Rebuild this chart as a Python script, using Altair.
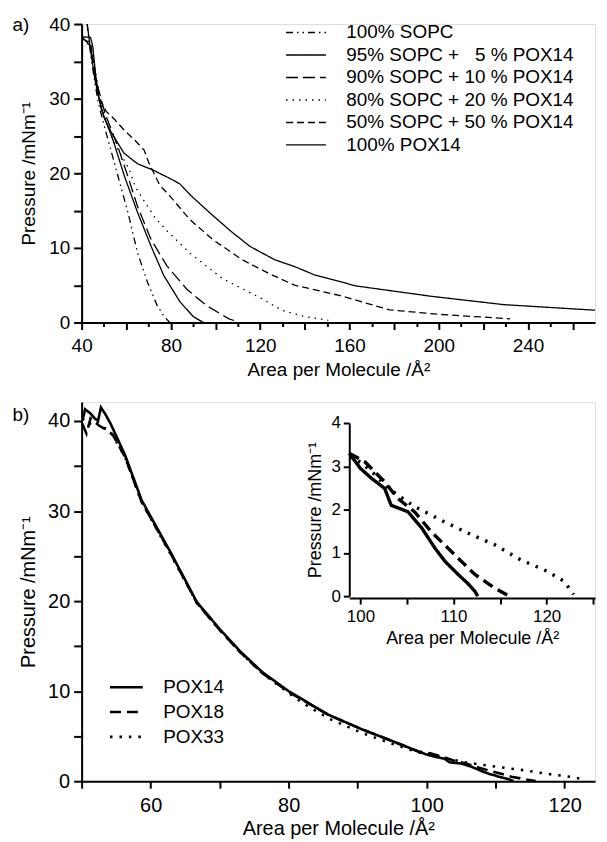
import altair as alt
import pandas as pd

FONT = "Liberation Sans"

# ---------------- panel a data (area per molecule, pressure)
names_a = [
    "100% SOPC",
    "\u00a0\u00a095% SOPC + \u00a0\u00a05 % POX14",
    "\u00a0\u00a090% SOPC + 10 % POX14",
    "\u00a0\u00a080% SOPC + 20 % POX14",
    "\u00a0\u00a050% SOPC + 50 % POX14",
    "100% POX14",
]
dash_a = [[7, 4, 1.5, 4, 1.5, 4], [1, 0], [12, 5], [1.5, 5], [7, 4], [1, 0]]

sopc_A = [42.5, 44, 46, 47.5, 50, 52, 56.3, 60.7, 65, 69.5, 73.8, 77, 79.5]
sopc_P = [40, 36, 32, 29.4, 26.5, 24.3, 19.6, 14.8, 9.4, 5.4, 2.3, 0.8, 0]

m95_A = [42.5, 44, 46, 48.9, 54, 59.2, 65, 71, 76.8, 84, 90, 94.5]
m95_P = [40, 36.5, 32.5, 28.5, 24.5, 19.6, 14.8, 10.3, 6.3, 2.8, 0.8, 0]

m90_A = [40.5, 44, 46, 50.4, 56.3, 60.7, 65, 71, 78.2, 87, 95.8, 102, 106, 110]
m90_P = [38.2, 37, 33, 28.1, 23.5, 19.6, 15.6, 11.2, 7.6, 4.5, 2.3, 1.2, 0.5, 0.1]

m80_A = [40.5, 44, 46, 48, 51, 54, 57, 59.5, 61.4, 64, 68, 73, 78.2, 88.5, 103, 120.7, 130, 140, 150.5]
m80_P = [38, 37, 34, 30.5, 27, 24.5, 22.8, 21.5, 20.5, 18.2, 16.3, 14, 12.3, 9.3, 5.9, 3.2, 1.6, 0.8, 0.3]

m50_A = [40.5, 44, 46, 48, 51, 54.8, 59, 63.6, 68, 70, 72.4, 75, 79.7, 88.5, 98.8, 112, 123.7, 135.4, 155.9, 177.9, 199.8, 232]
m50_P = [38, 37.5, 33.5, 30, 28.3, 27.2, 25.8, 24.5, 23.1, 21.5, 20, 18.4, 16.9, 13.8, 11.1, 8.4, 6.6, 5.0, 3.6, 1.7, 1.1, 0.5]

pox_A = [40.3, 44, 45, 47, 50, 53.4, 59, 64.9, 72.2, 80.2, 83.9, 89, 97.8, 106.6, 115.4, 121, 126.6, 135.4, 144.2, 163, 197, 229, 270]
pox_P = [38.3, 38.2, 37, 31, 27.5, 25.4, 22.7, 21.3, 20.4, 19.2, 18.6, 17, 14.6, 12.3, 10.2, 9.3, 8.4, 7.5, 6.4, 4.9, 3.5, 2.4, 1.65]

# ---------------- panel b data
names_b = ["POX14", "POX18", "POX33"]
dash_b = [[1, 0], [11, 6], [2.5, 7]]

p14_A = [50.2, 50.5, 51.2, 52.0, 52.4, 52.8, 53.4, 54.2, 56.3, 58.7, 62.9, 66.7, 70, 73, 76.2, 80, 85.7, 90.5, 95.2,
         98.8, 100, 101.2, 102.6, 103.3, 105.1, 106.6, 108, 109.1, 110.5, 111.5, 112.3, 112.6]
p14_P = [40.3, 41.3, 40.9, 40.2, 40.1, 41.5, 40.8, 39.7, 36.2, 31.2, 25.4, 19.9, 16.9, 14.4, 12.1, 10.0, 7.4, 5.8, 4.4,
         3.3, 2.95, 2.72, 2.49, 2.1, 1.95, 1.57, 1.11, 0.8, 0.5, 0.3, 0.11, 0]

p18_A = [50.1, 50.7, 51.3, 52.5, 53.4, 54.5, 56.3, 58.7, 62.9, 66.7, 70, 73, 76.2, 80, 85.7, 90.5, 95.2,
         98.8, 100.5, 102.6, 104, 105.8, 107.6, 110.1, 112.3, 114.4, 115.8]
p18_P = [39.7, 38.6, 40.3, 39.5, 39.1, 38.5, 36.0, 31.0, 25.3, 19.8, 16.8, 14.3, 12.0, 9.9, 7.4, 5.8, 4.4,
         3.3, 3.1, 2.64, 2.26, 1.95, 1.49, 0.96, 0.5, 0.19, 0.02]

p33_A = [50.1, 51, 52, 53, 54.2, 56.3, 58.7, 62.9, 66.7, 70, 73, 76.2, 80, 82, 85.7, 90.5, 95.2,
         98.8, 100, 101.6, 103, 105.8, 109, 111.9, 114.4, 117.2, 120.1, 121.9, 122.9]
p33_P = [40.3, 39.6, 40.1, 39.4, 38.8, 36.0, 31.0, 25.2, 19.8, 16.8, 14.3, 12.0, 9.8, 8.7, 7.0, 5.4, 4.1,
         3.2, 3.1, 2.8, 2.49, 2.07, 1.72, 1.42, 1.19, 0.84, 0.57, 0.34, 0.04]


def frame(names, pairs):
    rows = []
    for n, (xs, ys) in zip(names, pairs):
        for i, (x, y) in enumerate(zip(xs, ys)):
            rows.append({"A": x, "P": y, "s": n, "i": i})
    return pd.DataFrame(rows)


dfa = frame(names_a, [(sopc_A, sopc_P), (m95_A, m95_P), (m90_A, m90_P), (m80_A, m80_P), (m50_A, m50_P), (pox_A, pox_P)])
dfb = frame(names_b, [(p14_A, p14_P), (p18_A, p18_P), (p33_A, p33_P)])
dfi = dfb[dfb["A"] >= 98.8]


def axis(title, values, label_expr, tick=7, tick_cond=None, lp=4, tp=4, fs=19, tfs=None, **kw):
    ts = tick if tick_cond is None else {"condition": {"test": tick_cond, "value": tick}, "value": 4}
    return alt.Axis(title=title, values=values, labelExpr=label_expr, tickSize=ts, grid=False,
                    domainWidth=2, tickWidth=2, domainColor="black", tickColor="black",
                    labelColor="black", titleColor="black", labelFont=FONT, titleFont=FONT,
                    labelFontSize=fs, titleFontSize=tfs or fs, titleFontWeight="normal",
                    labelPadding=lp, titlePadding=tp, labelFlush=False, **kw)


def legend(x, y, path, loff, rowpad, sw, soff=0, fs=19):
    return alt.Legend(orient="none", legendX=x, legendY=y, title=None,
                      symbolType=path, symbolSize=100, symbolStrokeWidth=sw, symbolOffset=soff,
                      symbolStrokeColor="black", labelFont=FONT, labelFontSize=fs,
                      labelColor="black", labelOffset=loff, labelLimit=400,
                      rowPadding=rowpad, padding=0)


XT = "Area per Molecule /\u00c5\u00b2"
YT = "Pressure /mNm\u207b\u00b9"
W = 516

# ---------------- panel a
lines_a = alt.Chart(dfa).mark_line(color="black", strokeWidth=1.3).encode(
    x=alt.X("A:Q", scale=alt.Scale(domain=[40, 270], nice=False, zero=False),
            axis=axis(XT, list(range(40, 261, 10)), "datum.value % 40 == 0 ? datum.label : ''",
                      tick=7, tick_cond="datum.value % 20 == 0", lp=7, tp=5)),
    y=alt.Y("P:Q", scale=alt.Scale(domain=[0, 40], nice=False),
            axis=axis(YT, list(range(0, 41, 5)), "datum.value % 10 == 0 ? datum.label : ''", tick=8, lp=4, tp=10)),
    strokeDash=alt.StrokeDash("s:N", scale=alt.Scale(domain=names_a, range=dash_a),
                              legend=legend(222, -1, "M-4,0L4,0", 31, 2.6, 1.4, soff=-6)),
    order="i:Q",
)
lab_a = alt.Chart(pd.DataFrame({"t": ["a)"]})).mark_text(font=FONT, fontSize=19, color="black").encode(
    x=alt.value(-61), y=alt.value(1), text="t:N")
panel_a = alt.layer(lines_a, lab_a).properties(width=W, height=300)

# ---------------- panel b
dash_scale = alt.Scale(domain=names_b, range=dash_b)
lines_b = alt.Chart(dfb).mark_line(color="black", strokeWidth=2.6).encode(
    x=alt.X("A:Q", scale=alt.Scale(domain=[50, 124.4], nice=False, zero=False),
            axis=axis(XT, list(range(50, 121, 10)), "datum.value % 20 == 0 ? datum.label : ''", tick=7, lp=7, tp=4,
                      fs=20, orient="bottom")),
    y=alt.Y("P:Q", scale=alt.Scale(domain=[0, 42.1], nice=False),
            axis=axis(YT, list(range(0, 41, 5)), "datum.value % 10 == 0 ? datum.label : ''", tick=8, lp=4, tp=9,
                      fs=20, orient="left")),
    strokeDash=alt.StrokeDash("s:N", scale=dash_scale,
                              legend=legend(35.5, 277, "M-3.3,0L3.3,0", 27.5, 5, 2.6)),
    order="i:Q",
)
lines_i = alt.Chart(dfi).mark_line(color="black", strokeWidth=3.4).encode(
    x=alt.X("A:Q", scale=alt.Scale(domain=[98.8, 125.2], range=[269, 516], nice=False, zero=False),
            axis=axis(XT, list(range(100, 126, 5)), "datum.value % 10 == 0 ? datum.label : ''", tick=6, lp=5, tp=5,
                      fs=17, tfs=18, orient="bottom", offset=-184)),
    y=alt.Y("P:Q", scale=alt.Scale(domain=[0, 4], range=[195, 21], nice=False),
            axis=axis(YT, [0, 1, 2, 3, 4], "datum.label", tick=6, lp=3, tp=6, fs=17, tfs=18,
                      orient="left", offset=-269)),
    strokeDash=alt.StrokeDash("s:N", scale=dash_scale, legend=None),
    order="i:Q",
)
lab_b = alt.Chart(pd.DataFrame({"t": ["b)"]})).mark_text(font=FONT, fontSize=19, color="black").encode(
    x=alt.value(-61), y=alt.value(13), text="t:N")
panel_b = alt.layer(lines_b, lines_i, lab_b).resolve_scale(x="independent", y="independent").properties(
    width=W, height=381)

chart = alt.vconcat(panel_a, panel_b, spacing=21).resolve_scale(
    x="independent", y="independent", strokeDash="independent").resolve_legend(strokeDash="independent").properties(
    padding={"left": 4, "top": 4, "right": 0, "bottom": 0}
).configure_view(stroke=None).configure(font=FONT)

chart.save("out.html", embed_options={"renderer": "svg", "actions": False})
